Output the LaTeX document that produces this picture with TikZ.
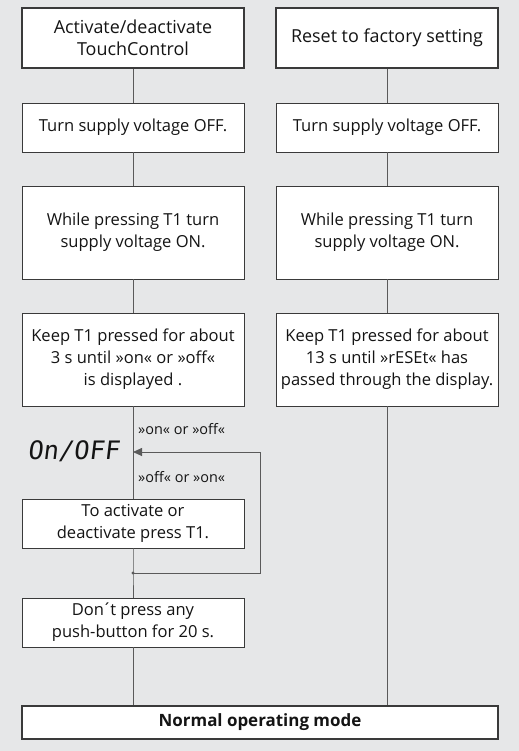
\documentclass[tikz,border=0pt]{standalone}
\usepackage{fontspec}
\setmainfont{Open Sans}
\newfontfamily\segfont[FakeSlant=0.12]{DejaVu Sans Mono}
\usetikzlibrary{arrows.meta}
\definecolor{bg}{HTML}{E6E7E8}
\definecolor{boxline}{HTML}{3A3A3A}
\definecolor{conn}{HTML}{5A5A5A}
\definecolor{txt}{HTML}{141414}
\tikzset{
  stepbox/.style={draw=boxline, line width=0.9bp, fill=white, inner sep=0pt,
    minimum width=222bp, align=center, text=txt,
    font=\fontsize{16.6}{22}\selectfont},
  headbox/.style={stepbox, line width=1.4bp, font=\fontsize{18}{22}\selectfont},
  conline/.style={draw=conn, line width=0.9bp},
  smalllabel/.style={anchor=west, inner sep=0pt, text=txt, font=\fontsize{14.5}{15}\selectfont}
}
\begin{document}
\begin{tikzpicture}[x=1bp, y=-1bp]
\fill[bg] (0,0) rectangle (519,751);
\useasboundingbox (0,0) rectangle (519,751);
% left column
\node[headbox, minimum height=60bp] (h1) at (133,38) {Activate/deactivate\\TouchControl};
\node[stepbox, minimum height=49bp] (l2) at (133,127.5) {Turn supply voltage OFF.};
\node[stepbox, minimum height=93bp] (l3) at (133,232.5) {While pressing T1 turn\\supply voltage ON.};
\node[stepbox, minimum height=93bp] (l4) at (133,359.5) {Keep T1 pressed for about\\3 s until »on« or »off«\\is displayed .};
\node[stepbox, minimum height=49bp] (l5) at (133,523.5) {To activate or\\deactivate press T1.};
\node[stepbox, minimum height=49bp] (l6) at (133,622.5) {Don\kern-0.1em´\kern-0.1em t press any\\push-button for 20 s.};
% right column
\node[headbox, minimum height=60bp] (h2) at (387,38) {Reset to factory setting};
\node[stepbox, minimum height=49bp] (r2) at (387,127.5) {Turn supply voltage OFF.};
\node[stepbox, minimum height=93bp] (r3) at (387,232.5) {While pressing T1 turn\\supply voltage ON.};
\node[stepbox, minimum height=93bp] (r4) at (387,359.5) {Keep T1 pressed for about\\13 s until »rESEt« has\\passed through the display.};
% final
\node[headbox, minimum width=476bp, minimum height=33bp, font=\fontsize{17}{18}\selectfont\bfseries] (fin) at (260,722.5) {\raisebox{-2bp}{Normal operating mode}};
% display and labels
\node[anchor=center, inner sep=0pt, text=txt, font=\fontsize{25.5}{26}\selectfont\segfont] (disp) at (73.5,451) {On/OFF};
\node[smalllabel] (lab1) at (138,429) {»on« or »off«};
\node[smalllabel] (lab2) at (138,477) {»off« or »on«};
\coordinate (arr) at (133,452);
\coordinate (dot) at (133,573);
\coordinate (loopbr) at (260,573);
\coordinate (looptr) at (260,452);
% connectors
\draw[conline] (h1.south) -- (l2.north);
\draw[conline] (l2.south) -- (l3.north);
\draw[conline] (l3.south) -- (l4.north);
\draw[conline] (l4.south) -- (l5.north);
\draw[conline] (l5.south) -- (dot) -- (l6.north);
\draw[conline] (dot) -- (loopbr) -- (looptr);
\draw[conline, -{Triangle[length=9bp, width=8bp]}] (looptr) -- (arr);
\fill[conn] (dot) circle (1.6bp);
\draw[conline] (l6.south) -- (l6.south |- fin.north);
\draw[conline] (h2.south) -- (r2.north);
\draw[conline] (r2.south) -- (r3.north);
\draw[conline] (r3.south) -- (r4.north);
\draw[conline] (r4.south) -- (r4.south |- fin.north);
\end{tikzpicture}
\end{document}
